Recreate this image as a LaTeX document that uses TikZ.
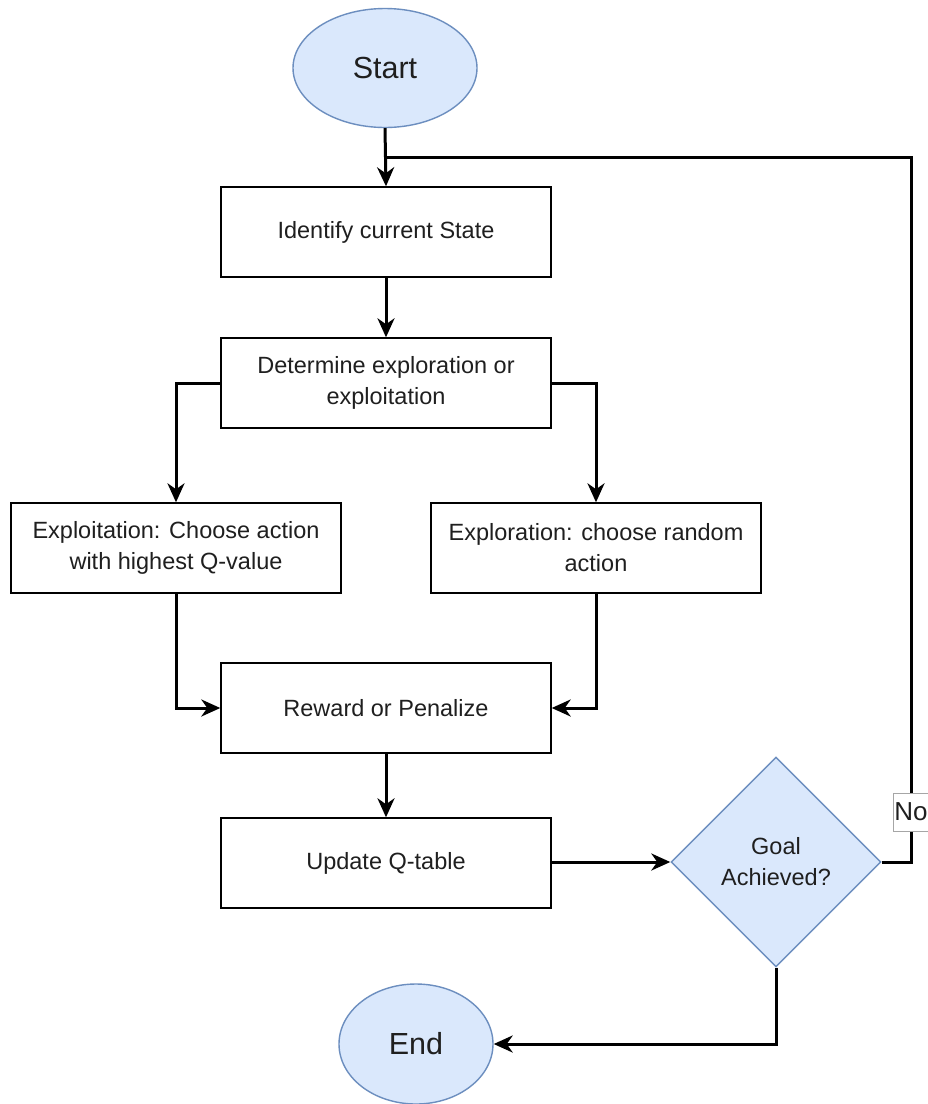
\documentclass[tikz,border=0pt]{standalone}
\usepackage{fontspec}
\setmainfont{Liberation Sans}
\usetikzlibrary{shapes.geometric,arrows.meta}
\definecolor{termfill}{HTML}{DAE8FC}
\definecolor{termline}{HTML}{6C8EBF}
\definecolor{inktext}{HTML}{1F1F1F}
\tikzset{
  procbox/.style={draw=black, line width=1.4pt, fill=white, minimum width=330pt, minimum height=90pt,
    inner sep=0pt, align=center, font=\fontsize{23.5}{31}\selectfont, text=inktext},
  terminal/.style={ellipse, draw=termline, line width=1.4pt, fill=termfill, inner sep=0pt,
    font=\fontsize{30.5}{34}\selectfont, text=inktext},
  decision/.style={diamond, draw=termline, line width=1.4pt, fill=termfill, minimum width=210pt,
    minimum height=210pt, inner sep=0pt, align=center, font=\fontsize{23.5}{31}\selectfont, text=inktext},
  flow/.style={line width=3pt, -{Stealth[length=19pt,width=17pt,inset=6pt]}},
  flowplain/.style={line width=3pt},
  edgelabel/.style={draw=gray!70, fill=white, line width=0.8pt, inner xsep=1pt, inner ysep=0pt,
    minimum height=38pt, font=\fontsize{26}{30}\selectfont, text=inktext}
}
\begin{document}
\begin{tikzpicture}[x=1pt,y=-1pt]
\useasboundingbox (0,0) rectangle (928,1104);
\clip (0,0) rectangle (928,1104);
\fill[white] (0,0) rectangle (928,1104);

% nodes
\node[terminal, minimum width=184pt, minimum height=119pt] (start) at (385,68) {Start};
\node[procbox] (ident) at (386,232) {Identify current State};
\node[procbox] (determ) at (386,383) {Determine exploration or\\exploitation};
\node[procbox] (exploit) at (176,548) {Exploitation: Choose action\\with highest Q-value};
\node[procbox] (explore) at (596,548) {Exploration: choose random\\action};
\node[procbox] (reward) at (386,708) {Reward or Penalize};
\node[procbox] (update) at (386,863) {Update Q-table};
\node[decision] (goal) at (776,862) {Goal\\Achieved?};
\node[terminal, minimum width=154pt, minimum height=120pt] (finish) at (416,1044) {End};

% loop-back junction and corner points
\coordinate (join) at (385,157);
\coordinate (loopTop) at (911,157);
\coordinate (loopBot) at (911,862);

% connectors
\draw[flow] (start.south) -- (ident.north);
\draw[flow] (ident.south) -- (determ.north);
\draw[flow] (determ.west) -| (exploit.north);
\draw[flow] (determ.east) -| (explore.north);
\draw[flow] (exploit.south) |- (reward.west);
\draw[flow] (explore.south) |- (reward.east);
\draw[flow] (reward.south) -- (update.north);
\draw[flow] (update.east |- goal.west) -- (goal.west);
\draw[flow] (goal.south) |- (finish.east);
\draw[flowplain] (goal.east) -- (loopBot) -- (loopTop) -- (join);

% edge label on the return path
\node[edgelabel, anchor=west] (nolabel) at (893,812) {No};
\end{tikzpicture}
\end{document}
